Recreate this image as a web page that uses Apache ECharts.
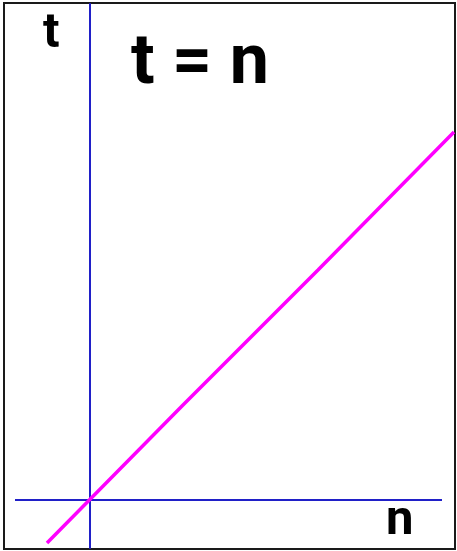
<!DOCTYPE html>
<html>
<head>
<meta charset="utf-8">
<script src="https://cdn.jsdelivr.net/npm/echarts@6/dist/echarts.min.js"></script>
<style>
html,body{margin:0;padding:0;background:#fff;}
#chart{width:457px;height:551px;}
</style>
</head>
<body>
<div id="chart"></div>
<script>
// Data
const nValues = [-43, 93, 228, 364];
const tValues = [-43, 95, 230, 368];
const nAxisExtent = [-75, 352];   // horizontal axis line drawn at t = 0
const titleText = 't = n';
const xName = 'n';
const yName = 't';

const chart = echarts.init(document.getElementById('chart'), null, {renderer: 'canvas'});
const axisColor = '#2020c8';
const font = 'Roboto';

chart.setOption({
  backgroundColor: '#ffffff',
  animation: false,
  grid: {left: 15, right: 2, top: 4, bottom: 3, containLabel: false},
  xAxis: {
    type: 'value', min: -75, max: 365,
    axisLine: {show: false},
    axisTick: {show: false}, axisLabel: {show: false}, splitLine: {show: false}
  },
  yAxis: {
    type: 'value', min: -48, max: 496,
    axisLine: {show: true, onZero: true, lineStyle: {color: axisColor, width: 2}},
    axisTick: {show: false}, axisLabel: {show: false}, splitLine: {show: false}
  },
  series: [{
    type: 'line',
    data: nAxisExtent.map(n => [n, 0]),
    symbol: 'none', silent: true, z: 1,
    lineStyle: {color: axisColor, width: 2}
  }, {
    type: 'line',
    data: nValues.map((n, i) => [n, tValues[i]]),
    symbol: 'none',
    clip: false,
    silent: true, z: 3,
    lineStyle: {color: '#ff00ff', width: 3.5}
  }],
  graphic: [
    {type: 'rect', shape: {x: 4, y: 3, width: 451, height: 546},
     style: {fill: 'none', stroke: '#1a1a1a', lineWidth: 2}, silent: true},
    {type: 'text', left: 131, top: 30,
     style: {text: titleText, font: 'bold 70px ' + font, fill: '#000'}},
    {type: 'text', left: 43, top: 10,
     style: {text: yName, font: 'bold 49px ' + font, fill: '#000'}},
    {type: 'text', left: 386, top: 497,
     style: {text: xName, font: 'bold 49px ' + font, fill: '#000'}}
  ]
});
</script>
</body>
</html>
